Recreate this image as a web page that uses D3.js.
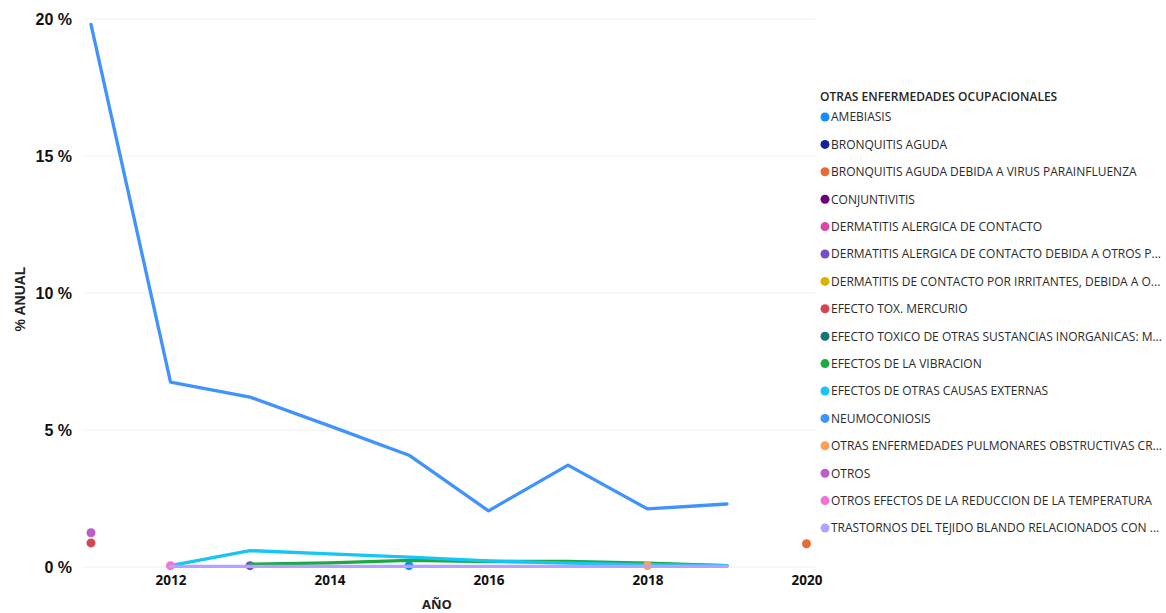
<!DOCTYPE html>
<html><head><meta charset="utf-8">
<script src="https://cdn.jsdelivr.net/npm/d3@7"></script>
<style>
body{margin:0;background:#fff;}
svg{display:block;}
</style></head>
<body><svg id="c" width="1166" height="613"></svg>
<script>
const years = [2011, 2012, 2013, 2014, 2015, 2016, 2017, 2018, 2019, 2020];
const xTicks = [2012, 2014, 2016, 2018, 2020];
const yTicks = [0, 5, 10, 15, 20];
const legendTitle = "OTRAS ENFERMEDADES OCUPACIONALES";
const categories = [
  "AMEBIASIS",
  "BRONQUITIS AGUDA",
  "BRONQUITIS AGUDA DEBIDA A VIRUS PARAINFLUENZA",
  "CONJUNTIVITIS",
  "DERMATITIS ALERGICA DE CONTACTO",
  "DERMATITIS ALERGICA DE CONTACTO DEBIDA A OTROS P...",
  "DERMATITIS DE CONTACTO POR IRRITANTES, DEBIDA A O...",
  "EFECTO TOX. MERCURIO",
  "EFECTO TOXICO DE OTRAS SUSTANCIAS INORGANICAS: M...",
  "EFECTOS DE LA VIBRACION",
  "EFECTOS DE OTRAS CAUSAS EXTERNAS",
  "NEUMOCONIOSIS",
  "OTRAS ENFERMEDADES PULMONARES OBSTRUCTIVAS CR...",
  "OTROS",
  "OTROS EFECTOS DE LA REDUCCION DE LA TEMPERATURA",
  "TRASTORNOS DEL TEJIDO BLANDO RELACIONADOS CON ..."
];
const colors = ["#118DFF","#12239E","#E66C37","#6B007B","#E044A7","#744EC2","#D9B300","#D64550",
  "#197278","#1AAB40","#15C6F4","#4092FF","#FFA058","#BE5DC9","#F472D0","#B5A1FF"];
// values per series, one per year (null = no data)
const amebiasis      = [null, null, null, null, 0.05, null, null, null, null, null];
const bronquitis     = [null, null, null, null, null, null, null, null, null, null];
const bronquitisVirus= [null, null, null, null, null, null, null, null, null, 0.85];
const conjuntivitis  = [null, null, null, null, null, null, null, null, null, null];
const dermAlergica   = [null, null, null, null, null, null, null, null, null, null];
const dermAlergOtros = [null, null, 0.05, null, null, null, null, null, null, null];
const dermIrritantes = [null, null, null, null, null, null, null, null, null, null];
const mercurio       = [0.88, null, null, null, null, null, null, null, null, null];
const toxicoInorg    = [null, null, null, null, null, null, null, null, null, null];
const vibracion      = [null, null, 0.10, 0.15, 0.24, 0.20, 0.20, 0.14, 0.05, null];
const causasExternas = [null, 0.05, 0.60, 0.48, 0.36, 0.22, 0.14, 0.09, 0.05, null];
const neumoconiosis  = [19.8, 6.75, 6.2, 5.15, 4.08, 2.05, 3.72, 2.12, 2.3, null];
const pulmonares     = [null, null, null, null, null, null, null, 0.05, null, null];
const otros          = [1.25, null, null, null, null, null, null, null, null, null];
const reduccionTemp  = [null, 0.05, null, null, null, null, null, null, null, null];
const trastornos     = [null, 0.02, 0.02, 0.02, 0.02, 0.02, 0.02, 0.02, 0.02, null];
const seriesValues = [amebiasis, bronquitis, bronquitisVirus, conjuntivitis, dermAlergica, dermAlergOtros,
  dermIrritantes, mercurio, toxicoInorg, vibracion, causasExternas, neumoconiosis, pulmonares, otros,
  reduccionTemp, trastornos];

const svg = d3.select("#c");
const x = d3.scaleLinear().domain([2011, 2020]).range([91, 806.5]);
const y = d3.scaleLinear().domain([0, 20]).range([567, 19]);

// gridlines
svg.append("g").selectAll("line").data(yTicks).join("line")
  .attr("x1", 83).attr("x2", 815)
  .attr("y1", d => y(d)).attr("y2", d => y(d))
  .attr("stroke", "#f0f0f0").attr("stroke-width", 1);

// y axis labels
const yAxis = svg.append("g").attr("transform", "translate(72,0)")
  .call(d3.axisLeft(y).tickValues(yTicks).tickSize(0).tickPadding(0).tickFormat(d => d + " %"));
yAxis.select(".domain").remove();
yAxis.selectAll("text").attr("font-family", "'Liberation Sans', Arial, sans-serif")
  .attr("font-size", 16).attr("font-weight", "bold").attr("fill", "#111");

// x axis labels
const xAxis = svg.append("g").attr("transform", "translate(0,575)")
  .call(d3.axisBottom(x).tickValues(xTicks).tickSize(0).tickPadding(0).tickFormat(d3.format("d")));
xAxis.select(".domain").remove();
xAxis.selectAll("text").attr("font-family", "'Open Sans', sans-serif")
  .attr("font-size", 13.5).attr("font-weight", 700).attr("fill", "#111");

svg.append("text").attr("x", 437).attr("y", 609).attr("text-anchor", "middle")
  .attr("font-family", "'Open Sans', sans-serif").attr("font-size", 13).attr("font-weight", 700)
  .attr("fill", "#222").text("AÑO");
svg.append("text").attr("transform", "translate(25,299) rotate(-90)").attr("text-anchor", "middle")
  .attr("font-family", "'Liberation Sans', Arial, sans-serif").attr("font-size", 14).attr("font-weight", "bold")
  .attr("fill", "#222").text("% ANUAL");

// series
const line = d3.line().defined(d => d.v != null).x(d => x(d.year)).y(d => y(d.v));
const plot = svg.append("g");
seriesValues.forEach((vals, i) => {
  const pts = years.map((yr, j) => ({year: yr, v: vals[j]}));
  plot.append("path").datum(pts).attr("d", line).attr("fill", "none")
    .attr("stroke", colors[i]).attr("stroke-width", 3.3).attr("stroke-linejoin", "round").attr("stroke-linecap", "round");
  const isolated = pts.filter((p, j) => p.v != null && (j === 0 || vals[j-1] == null) && (j === vals.length-1 || vals[j+1] == null));
  plot.selectAll(null).data(isolated).join("circle")
    .attr("cx", d => x(d.year)).attr("cy", d => y(d.v)).attr("r", 4.5).attr("fill", colors[i]);
});

// legend
const lg = svg.append("g");
lg.append("text").attr("x", 820).attr("y", 101).attr("font-family", "'Open Sans', sans-serif")
  .attr("font-size", 12).attr("font-weight", 600).attr("fill", "#252423").text(legendTitle);
const items = lg.selectAll("g.item").data(categories).join("g").attr("class", "item")
  .attr("transform", (d, i) => `translate(0,${117 + i * 27.4})`);
items.append("circle").attr("cx", 825).attr("cy", 0).attr("r", 4.5).attr("fill", (d, i) => colors[i]);
items.append("text").attr("x", 831).attr("y", 4.3).attr("font-family", "'Open Sans', sans-serif")
  .attr("font-size", 12).attr("fill", "#2a2a2a").text(d => d);
</script></body></html>
